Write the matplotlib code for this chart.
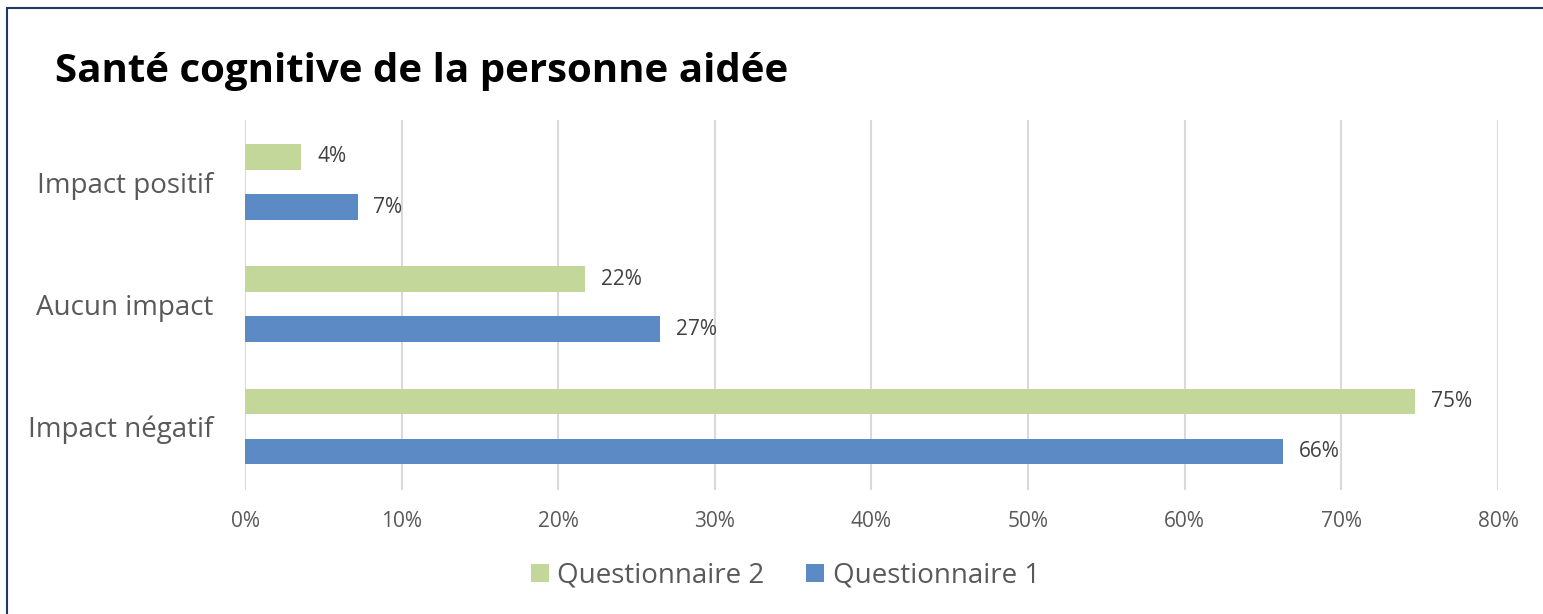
import matplotlib.pyplot as plt
from matplotlib.patches import Rectangle
import numpy as np

categories = ["Impact négatif", "Aucun impact", "Impact positif"]
q1 = [66.3, 26.5, 7.2]
q2 = [74.7, 21.7, 3.6]
q1_labels = ["66%", "27%", "7%"]
q2_labels = ["75%", "22%", "4%"]
ticks = [0, 10, 20, 30, 40, 50, 60, 70, 80]

plt.rcParams['font.family'] = ['Open Sans', 'DejaVu Sans']

fig = plt.figure(figsize=(15.43, 6.14), dpi=100)
ax = fig.add_axes([0.1588, 0.202, 0.812, 0.603])

y = np.arange(len(categories))
h = 0.21
bars1 = ax.barh(y - 0.205, q1, height=h, color='#5B8AC5', label='Questionnaire 1', zorder=3)
bars2 = ax.barh(y + 0.205, q2, height=h, color='#C4D79B', label='Questionnaire 2', zorder=3)

for b, lab in zip(bars1, q1_labels):
    ax.text(b.get_width() + 1.0, b.get_y() + b.get_height() / 2, lab,
            va='center', ha='left', fontsize=15, color='#404040')
for b, lab in zip(bars2, q2_labels):
    ax.text(b.get_width() + 1.0, b.get_y() + b.get_height() / 2, lab,
            va='center', ha='left', fontsize=15, color='#404040')

ax.set_xlim(0, 80)
ax.set_ylim(-0.52, 2.51)
ax.set_xticks(ticks)
ax.set_xticklabels([f"{t}%" for t in ticks])
ax.set_yticks(y)
ax.set_yticklabels(categories)
ax.tick_params(axis='x', length=0, labelsize=15, labelcolor='#595959', pad=15)
ax.tick_params(axis='y', length=0, labelsize=20, labelcolor='#595959', pad=23)
ax.xaxis.grid(True, color='#D9D9D9', linewidth=1.5, zorder=0)
for s in ax.spines.values():
    s.set_visible(False)

fig.text(0.0356, 0.884, "Santé cognitive de la personne aidée", fontsize=29,
         fontweight='bold', color='black', va='center', ha='left')

handles, labels = ax.get_legend_handles_labels()
fig.legend(handles[::-1], labels[::-1], loc='center', bbox_to_anchor=(0.509, 0.062),
           ncol=2, frameon=False, fontsize=20, labelcolor='#595959',
           handlelength=0.65, handleheight=0.65, handletextpad=0.3, columnspacing=1.5)

fig.patches.append(Rectangle((7 / 1543, -0.1), 1.2, 1 - 8 / 614 + 0.1,
                             transform=fig.transFigure, fill=False,
                             edgecolor='#1F3864', linewidth=1.5))

plt.savefig('out.png', dpi=100)
